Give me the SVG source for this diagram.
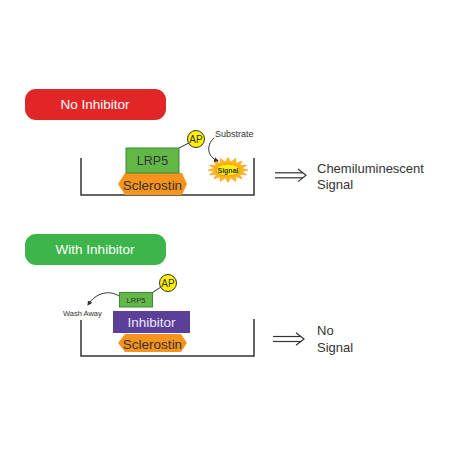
<svg xmlns="http://www.w3.org/2000/svg" width="450" height="450" viewBox="0 0 450 450">
<defs>
<style>
text{font-family:"Liberation Sans",Arial,sans-serif;}
.pill-t{fill:#fff;font-size:13.5px;text-anchor:middle;}
.dark{fill:#333;}
.mid{text-anchor:middle;}
.well{fill:none;stroke:#333;stroke-width:1.5;}
.lrp{fill:#62b847;stroke:#3d8b37;stroke-width:1;}
.scl{fill:#f7941d;}
.ap{fill:#fff200;stroke:#333;stroke-width:1;}
.ln{fill:none;stroke:#333;stroke-width:1;}
.arr{fill:none;stroke:#333;stroke-width:1.2;}
</style>
<marker id="ah" viewBox="0 0 10 10" refX="8" refY="5" markerWidth="5" markerHeight="5" orient="auto" markerUnits="userSpaceOnUse">
<path d="M0,0 L10,5 L0,10 z" fill="#333"/>
</marker>
</defs>
<rect width="450" height="450" fill="#fff"/>

<g id="label-no-inhibitor">
<rect x="25" y="89" width="141" height="31" rx="11" fill="#e12628"/>
<text class="pill-t" x="95" y="109">No Inhibitor</text>
</g>

<g id="well-top">
<polyline class="well" points="81,158 81,195 254,195 254,158"/>
</g>

<g id="sclerostin-top">
<polygon class="scl" points="118,184 125,173 182,173 187,184 182,195 125,195"/>
<text class="dark mid" x="152.5" y="190" font-size="13.5">Sclerostin</text>
</g>

<g id="lrp5-top">
<rect class="lrp" x="126" y="148" width="53" height="25"/>
<text class="dark mid" x="152.5" y="165" font-size="12.5">LRP5</text>
</g>

<g id="ap-top">
<circle class="ap" cx="196" cy="139" r="8.5"/>
<text class="dark mid" x="196" y="142.6" font-size="10">AP</text>
</g>

<g id="substrate">
<text class="dark" x="215" y="137" font-size="9">Substrate</text>
</g>

<g id="signal-burst">
<polygon fill="#fdb913" stroke="#f7941d" stroke-width="0.6" points="248,170 241.7,171.6 246.5,174.8 239.6,174.4 242.1,178.8 235.8,176.6 235.7,181.6 230.7,177.8 228,182.5 225.3,177.8 220.3,181.6 220.2,176.6 213.9,178.8 216.4,174.4 209.5,174.8 214.3,171.6 208,170 214.3,168.4 209.5,165.2 216.4,165.6 213.9,161.2 220.2,163.4 220.3,158.4 225.3,162.2 228,157.5 230.7,162.2 235.7,158.4 235.8,163.4 242.1,161.2 239.6,165.6 246.5,165.2 241.7,168.4"/>
<ellipse cx="228" cy="170" rx="12" ry="6" fill="#fff200" stroke="#f7941d" stroke-width="1"/>
<text class="dark mid" x="228" y="172.5" font-size="7" font-weight="bold">Signal</text>
</g>

<g id="result-top">
<text class="dark" x="317" y="173" font-size="13">Chemiluminescent</text>
<text class="dark" x="317" y="189" font-size="13">Signal</text>
</g>

<g id="label-with-inhibitor">
<rect x="25" y="234" width="141" height="31" rx="11" fill="#3db54a"/>
<text class="pill-t" x="95" y="254">With Inhibitor</text>
</g>

<g id="well-bottom">
<polyline class="well" points="81,320 81,356 254,356 254,319"/>
</g>

<g id="sclerostin-bottom">
<polygon class="scl" points="118,343 125,334 181,334 187,343 181,352 125,352"/>
<text class="dark mid" x="152.5" y="348.5" font-size="13.5">Sclerostin</text>
</g>

<g id="inhibitor">
<rect x="113" y="311" width="77" height="22" fill="#5c3f99"/>
<text class="mid" x="151.5" y="327" font-size="13.5" fill="#ece8f4">Inhibitor</text>
</g>

<g id="lrp5-bottom">
<rect class="lrp" x="119.5" y="292.5" width="33" height="14.5"/>
<text class="dark mid" x="136" y="303" font-size="7.5">LRP5</text>
</g>

<g id="ap-bottom">
<circle class="ap" cx="168" cy="283" r="8.5"/>
<text class="dark mid" x="168" y="286.6" font-size="10">AP</text>
</g>

<g id="wash-away">
<text class="dark" x="63" y="316" font-size="7.5">Wash Away</text>
</g>

<g id="result-bottom">
<text class="dark" x="317" y="335" font-size="13">No</text>
<text class="dark" x="317" y="352" font-size="13">Signal</text>
</g>

<g id="connectors">
<line class="ln" x1="179" y1="148" x2="189" y2="143"/>
<line class="ln" x1="152.5" y1="292.5" x2="161" y2="287"/>
<path class="ln" d="M214,138 C206,145 207,157 218,161" marker-end="url(#ah)"/>
<path class="ln" d="M119,296 C110,290 96,292 88,305" marker-end="url(#ah)"/>
<line class="arr" x1="275" y1="172.8" x2="303" y2="172.8"/>
<line class="arr" x1="275" y1="177.8" x2="303" y2="177.8"/>
<polyline class="arr" points="298,169 306,175.3 298,181.6"/>
<line class="arr" x1="273" y1="336.5" x2="301" y2="336.5"/>
<line class="arr" x1="273" y1="341.5" x2="301" y2="341.5"/>
<polyline class="arr" points="296,332.7 304,339 296,345.3"/>
</g>
</svg>
